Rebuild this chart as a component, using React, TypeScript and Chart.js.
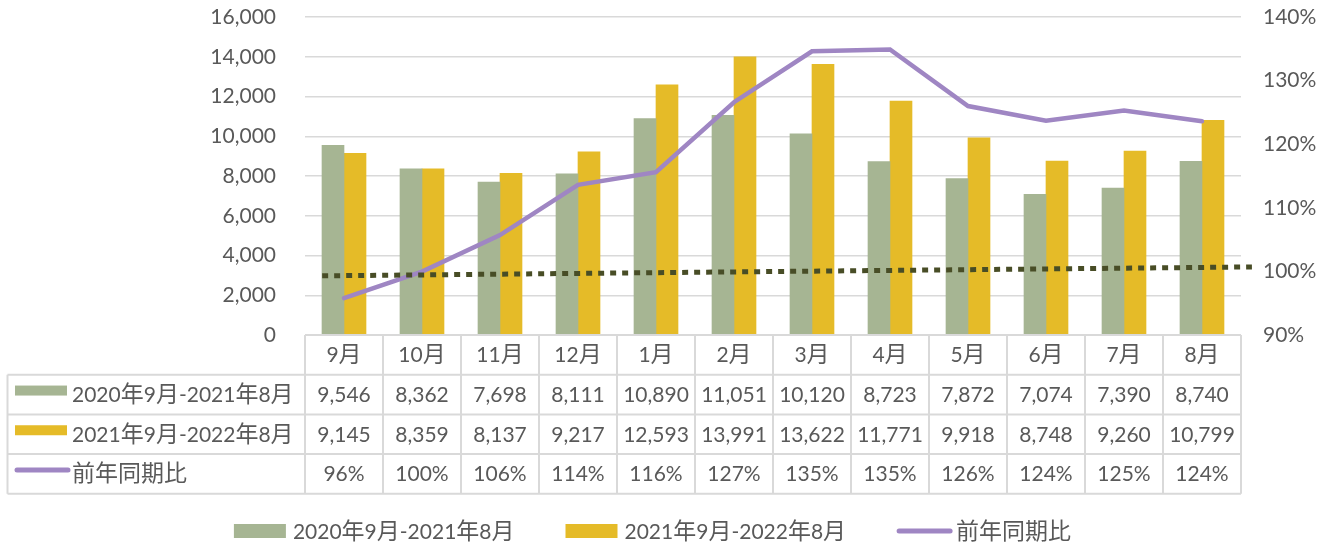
import React, { useEffect, useRef } from 'react';
import { Chart, registerables } from 'chart.js';

Chart.register(...registerables);

// ---- data ----
const months = ['9月', '10月', '11月', '12月', '1月', '2月', '3月', '4月', '5月', '6月', '7月', '8月'];
const seriesNames = ['2020年9月-2021年8月', '2021年9月-2022年8月', '前年同期比'];
const series2020 = [9546, 8362, 7698, 8111, 10890, 11051, 10120, 8723, 7872, 7074, 7390, 8740];
const series2021 = [9145, 8359, 8137, 9217, 12593, 13991, 13622, 11771, 9918, 8748, 9260, 10799];
const yoyRatio = [95.8, 99.96, 105.7, 113.6, 115.6, 126.6, 134.6, 134.9, 126.0, 123.7, 125.3, 123.6];
const trendX = [-0.28, 11.64];
const trendY = [99.3, 100.7];

// ---- styles ----
const GREEN = '#a6b593';
const YELLOW = '#e5bb28';
const PURPLE = '#9f86c3';
const TREND = '#484d26';
const TEXT = '#595959';
const BORDER = '#d9d9d9';
const LATIN_FAMILY = 'Lato';
const CJK_FAMILY = '"Noto Sans CJK JP"';
const LATIN_SIZE = 21;
const CJK_SIZE = 23;

const CJK_RE = /[\u3000-\u9fff\uff00-\uffef]/;

function splitRuns(text: string) {
  const runs: { t: string; cjk: boolean }[] = [];
  for (const ch of text) {
    const cjk = CJK_RE.test(ch);
    const last = runs[runs.length - 1];
    if (last && last.cjk === cjk) last.t += ch;
    else runs.push({ t: ch, cjk });
  }
  return runs;
}

function fontFor(cjk: boolean) {
  return cjk ? `${CJK_SIZE}px ${CJK_FAMILY}` : `${LATIN_SIZE}px ${LATIN_FAMILY}, ${CJK_FAMILY}`;
}

function measureMixed(ctx: CanvasRenderingContext2D, text: string) {
  let w = 0;
  for (const r of splitRuns(text)) {
    ctx.font = fontFor(r.cjk);
    w += ctx.measureText(r.t).width;
  }
  return w;
}

function drawMixed(ctx: CanvasRenderingContext2D, text: string, x: number, baseline: number, align: 'left' | 'center' | 'right') {
  const w = measureMixed(ctx, text);
  let cx = align === 'left' ? x : align === 'center' ? x - w / 2 : x - w;
  ctx.textAlign = 'left';
  ctx.textBaseline = 'alphabetic';
  ctx.fillStyle = TEXT;
  for (const r of splitRuns(text)) {
    ctx.font = fontFor(r.cjk);
    ctx.fillText(r.t, cx, baseline);
    cx += ctx.measureText(r.t).width;
  }
}

function fmt(n: number) {
  return n.toLocaleString('en-US');
}

function drawKey(ctx: CanvasRenderingContext2D, kind: number, x: number, cy: number, boxH: number) {
  if (kind === 2) {
    ctx.save();
    ctx.strokeStyle = PURPLE;
    ctx.lineWidth = 5;
    ctx.lineCap = 'round';
    ctx.beginPath();
    ctx.moveTo(x + 2, cy);
    ctx.lineTo(x + 53, cy);
    ctx.stroke();
    ctx.restore();
  } else {
    ctx.fillStyle = kind === 0 ? GREEN : YELLOW;
    ctx.fillRect(x, cy - boxH / 2, 52, boxH);
  }
}

const tablePlugin = {
  id: 'dataTable',
  afterDraw(chart: any) {
    const ctx: CanvasRenderingContext2D = chart.ctx;
    const area = chart.chartArea;
    const xs = chart.scales.x;
    const n = months.length;
    const colW = (area.right - area.left) / n;
    const rowH = 39.7;
    const top = area.bottom;
    const tableLeft = 7.5;
    const bottom = top + 4 * rowH;

    ctx.save();
    ctx.strokeStyle = BORDER;
    ctx.lineWidth = 2;
    const line = (x1: number, y1: number, x2: number, y2: number) => {
      ctx.beginPath();
      ctx.moveTo(x1, y1);
      ctx.lineTo(x2, y2);
      ctx.stroke();
    };
    line(area.left, top, area.right, top);
    for (let r = 1; r <= 4; r++) line(tableLeft, top + r * rowH, area.right, top + r * rowH);
    for (let i = 0; i <= n; i++) {
      const x = area.left + i * colW;
      line(x, top, x, bottom);
    }
    line(tableLeft, top + rowH, tableLeft, bottom);

    // header row
    const base = (r: number) => top + r * rowH + rowH / 2 + 7.5;
    months.forEach((m, i) => drawMixed(ctx, m, xs.getPixelForValue(i), base(0), 'center'));
    // data rows
    const rows = [
      series2020.map(fmt),
      series2021.map(fmt),
      yoyRatio.map((v) => `${Math.round(v)}%`),
    ];
    rows.forEach((vals, r) => {
      const cy = top + (r + 1) * rowH + rowH / 2;
      drawKey(ctx, r, 15, cy - 4, 10);
      drawMixed(ctx, seriesNames[r], 72, base(r + 1), 'left');
      vals.forEach((v, i) => drawMixed(ctx, v, xs.getPixelForValue(i), base(r + 1), 'center'));
    });

    // bottom legend
    const legendCenter = 652.5;
    const gapKey = 7;
    const gapItem = 51;
    const widths = seriesNames.map((s) => measureMixed(ctx, s));
    const total = widths.reduce((a, w) => a + 52 + gapKey + w, 0) + gapItem * (seriesNames.length - 1);
    let lx = legendCenter - total / 2;
    const ly = 531;
    seriesNames.forEach((s, i) => {
      drawKey(ctx, i, lx, ly, 14);
      drawMixed(ctx, s, lx + 52 + gapKey, 539, 'left');
      lx += 52 + gapKey + widths[i] + gapItem;
    });
    ctx.restore();
  },
};

export default function App() {
  const ref = useRef<HTMLCanvasElement | null>(null);

  useEffect(() => {
    if (!ref.current) return;
    const chart = new Chart(ref.current, {
      type: 'bar',
      data: {
        labels: months,
        datasets: [
          {
            type: 'line',
            label: 'trend',
            data: trendX.map((x, i) => ({ x, y: trendY[i] })),
            xAxisID: 'xTrend',
            yAxisID: 'y1',
            borderColor: TREND,
            borderWidth: 5,
            borderDash: [6, 6],
            borderCapStyle: 'butt',
            pointRadius: 0,
            fill: false,
            clip: false,
            order: 0,
          } as any,
          {
            type: 'line',
            label: seriesNames[2],
            data: yoyRatio,
            xAxisID: 'x',
            yAxisID: 'y1',
            borderColor: PURPLE,
            borderWidth: 4.5,
            borderCapStyle: 'round',
            borderJoinStyle: 'miter',
            pointRadius: 0,
            tension: 0,
            fill: false,
            order: 1,
          } as any,
          {
            type: 'bar',
            label: seriesNames[0],
            data: series2020,
            backgroundColor: GREEN,
            borderWidth: 0,
            xAxisID: 'x',
            yAxisID: 'y',
            barThickness: 22,
            order: 2,
          },
          {
            type: 'bar',
            label: seriesNames[1],
            data: series2021,
            backgroundColor: YELLOW,
            borderWidth: 0,
            xAxisID: 'x',
            yAxisID: 'y',
            barThickness: 22,
            order: 2,
          },
        ],
      },
      options: {
        responsive: false,
        animation: false,
        events: [],
        layout: { padding: { top: 17, bottom: 208, left: 0, right: 0 } },
        plugins: {
          legend: { display: false },
          tooltip: { enabled: false },
          title: { display: false },
        },
        scales: {
          x: {
            type: 'category',
            display: false,
            offset: true,
            grid: { display: false },
          },
          xTrend: {
            type: 'linear',
            position: 'bottom',
            display: false,
            offset: false,
            min: -0.5,
            max: 11.5,
            grid: { display: false, offset: false },
          },
          y: {
            position: 'left',
            min: 0,
            max: 16000,
            border: { display: false },
            grid: { color: BORDER, lineWidth: 1.5, drawTicks: true, tickLength: 26, tickColor: 'rgba(0,0,0,0)' },
            ticks: {
              stepSize: 2000,
              padding: 3,
              color: TEXT,
              font: { family: LATIN_FAMILY, size: LATIN_SIZE },
              callback: (v: any) => Number(v).toLocaleString('en-US'),
            },
            afterFit: (s: any) => {
              s.width = 305;
            },
          },
          y1: {
            position: 'right',
            min: 90,
            max: 140,
            border: { display: false },
            grid: { display: true, drawOnChartArea: false, color: 'rgba(0,0,0,0)', drawTicks: true, tickLength: 19, tickColor: 'rgba(0,0,0,0)' },
            ticks: {
              stepSize: 10,
              padding: 3,
              color: TEXT,
              font: { family: LATIN_FAMILY, size: LATIN_SIZE },
              callback: (v: any) => `${v}%`,
            },
            afterFit: (s: any) => {
              s.width = 88;
            },
          },
        },
      } as any,
      plugins: [tablePlugin],
    });
    return () => chart.destroy();
  }, []);

  return (
    <div style={{ position: 'absolute', left: 0, top: 0, width: 1329, height: 543, background: '#fff' }}>
      <canvas ref={ref} width={1329} height={543} style={{ display: 'block' }} />
    </div>
  );
}
